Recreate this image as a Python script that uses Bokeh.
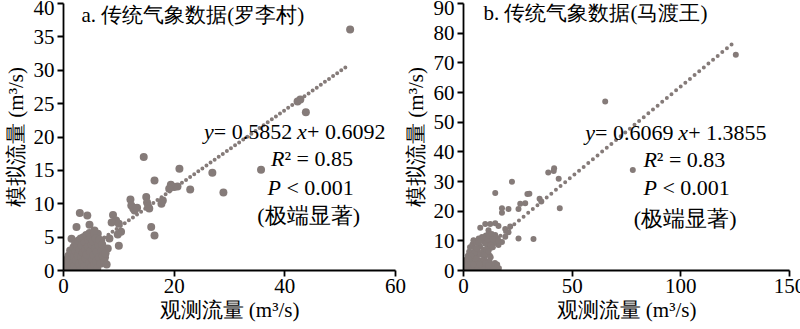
from bokeh.plotting import figure
from bokeh.models import Label, FixedTicker, Range1d
from bokeh.layouts import row
from bokeh.embed import file_html
from bokeh.resources import INLINE

# ---------------- data ----------------
# Panel a: 罗李村 (observed vs simulated flow, m3/s)
a_obs = [51.8, 43.8, 42.3, 42.8, 35.7, 28.9, 26.9, 22.9, 20.95, 20.6, 20.0, 19.4, 19.1,
         14.5, 16.45, 14.95, 15.1, 15.3, 15.5, 17.7, 17.95, 15.85, 16.45, 12.1, 12.25,
         12.6, 12.85, 13.3, 8.95, 9.5, 8.7, 10.0, 10.4, 9.8, 10.0, 8.3, 8.0, 7.5, 2.95,
         4.3, 2.35, 4.7, 1.45, 5.6, 6.2, 6.8,
         0.3, 0.5, 0.6, 0.8, 0.9, 1.0, 1.2, 1.2, 1.4, 1.5, 1.6, 1.7, 1.8, 1.9, 2.0, 2.1,
         2.2, 2.3, 2.4, 2.5, 2.6, 2.7, 2.8, 2.9, 3.0, 3.1, 3.2, 3.3, 3.4, 3.5, 3.6, 3.7,
         3.8, 3.9, 4.0, 4.1, 4.2, 4.3, 4.4, 4.5, 4.6, 4.7, 4.8, 4.9, 5.0, 5.1, 5.2, 5.3,
         5.4, 5.5, 5.6, 5.7, 5.8, 5.9, 6.0, 6.1, 6.3, 6.4, 6.5, 6.7, 6.9, 7.0, 7.1, 7.4,
         7.6, 7.8]
a_sim = [36.1, 23.7, 25.3, 25.6, 15.1, 11.7, 14.65, 12.15, 15.25, 12.6, 12.5, 12.85, 12.25,
         17.0, 13.5, 11.0, 10.2, 9.6, 9.3, 10.0, 10.5, 6.5, 5.25, 10.65, 9.75,
         9.3, 9.0, 9.4, 8.3, 7.5, 7.2, 7.0, 5.8, 5.4, 3.7, 4.8, 3.3, 2.0, 8.6,
         8.25, 6.5, 6.85, 4.75, 6.0, 5.5, 4.5,
         0.2, 0.9, 1.6, 0.3, 2.2, 1.1, 3.0, 0.4, 1.8, 2.6, 0.1, 1.2, 3.5, 2.1, 0.7, 4.0,
         2.9, 1.5, 0.3, 3.6, 2.2, 4.5, 1.0, 3.1, 0.1, 4.8, 2.0, 3.8, 1.3, 2.7, 5.0, 0.6,
         4.2, 3.2, 1.8, 5.3, 2.4, 0.2, 3.6, 4.6, 1.1, 5.6, 2.9, 5.0, 0.5, 3.9, 1.7, 4.4,
         2.3, 5.6, 0.9, 3.3, 4.8, 1.4, 2.8, 0.3, 3.8, 2.0, 4.6, 1.0, 3.0, 3.9, 2.2, 1.3,
         2.6, 0.9]
a_trend_x = [0.0, 51.5]
a_trend_y = [0.61, 30.75]

# Panel b: 马渡王
b_obs = [125.3, 65.2, 77.9, 41.5, 39.0, 41.7, 43.8, 44.3, 22.3, 14.6, 29.4, 30.3, 35.0,
         35.8, 26.1, 28.4, 25.3, 20.7, 17.7, 17.7, 25.3, 32.2, 7.7, 10.0, 12.3, 14.6,
         16.1, 11.5, 19.2, 20.7, 21.5, 19.2, 17.7, 4.6,
         0.5, 0.8, 1.0, 1.3, 1.5, 1.8, 2.0, 2.2, 2.4, 2.6, 2.8, 3.0, 3.2, 3.5, 3.7, 3.9,
         4.1, 4.3, 4.5, 4.7, 5.0, 5.2, 5.5, 5.8, 6.0, 6.2, 6.5, 6.8, 7.0, 7.3, 7.6, 7.9,
         8.2, 8.5, 8.8, 9.1, 9.4, 9.7, 10.0, 10.3, 10.6, 10.9, 11.2, 11.5, 11.8, 12.1,
         12.4, 12.7, 13.0, 13.3, 13.6, 13.9, 14.6, 15.0, 15.4, 15.8, 16.1, 16.3, 14.0,
         11.0, 9.0, 6.0, 4.0, 12.5, 12.0,
         2.0, 3.0, 4.0, 5.0, 6.0, 7.0, 8.0, 9.0, 10.0, 11.0, 12.0, 13.0, 14.0, 15.0,
         8.5, 9.5, 10.5, 11.5, 12.5, 13.5, 6.5, 7.5, 5.5, 4.5, 3.5, 2.5, 10.0, 11.5,
         14.5, 15.5, 16.0, 13.5]
b_sim = [72.7, 57.0, 33.9, 33.5, 33.0, 34.5, 30.9, 21.0, 29.9, 26.1, 25.8, 25.9, 24.2,
         23.3, 22.5, 22.7, 20.7, 20.7, 21.0, 19.5, 10.8, 10.6, 14.4, 15.7, 15.7, 15.9,
         15.0, 13.6, 14.0, 12.9, 14.8, 11.4, 9.6, 10.2,
         0.2, 1.2, 2.5, 0.5, 3.8, 1.8, 5.0, 0.3, 3.0, 6.3, 1.2, 7.8, 4.2, 2.2, 0.4, 6.0,
         8.8, 3.5, 1.0, 10.0, 5.2, 7.5, 2.5, 0.3, 9.3, 4.2, 6.6, 1.5, 10.8, 3.2, 8.2, 5.5,
         0.6, 11.3, 2.3, 7.0, 9.8, 4.3, 1.2, 11.8, 6.0, 8.8, 3.0, 12.3, 10.2, 5.0,
         7.6, 1.0, 11.6, 9.0, 2.0, 10.7, 12.0, 9.3, 1.3, 10.6, 8.6, 0.8, 0.5,
         0.4, 0.3, 0.2, 0.1, 4.5, 3.0,
         2.0, 3.0, 4.5, 6.0, 7.5, 9.5, 10.0, 11.0, 9.0, 10.5, 11.8, 12.3, 9.5, 11.2,
         3.5, 5.5, 7.0, 6.5, 8.5, 7.8, 3.0, 2.0, 4.0, 2.0, 5.0, 4.0, 2.5, 1.8,
         2.5, 2.0, 10.0, 10.5]
b_trend_x = [0.0, 124.0]
b_trend_y = [1.39, 76.6]

a_xticks = [0, 20, 40, 60]
a_yticks = [0, 5, 10, 15, 20, 25, 30, 35, 40]
b_xticks = [0, 50, 100, 150]
b_yticks = [0, 10, 20, 30, 40, 50, 60, 70, 80, 90]

a_title = "a. 传统气象数据(罗李村)"
b_title = "b. 传统气象数据(马渡王)"
a_eq = ("0.5852", "0.6092", "0.85")
b_eq = ("0.6069", "1.3855", "0.83")
sig_text = "(极端显著)"
x_label = "观测流量 (m³/s)"
y_label = "模拟流量 (m³/s)"

# ---------------- style ----------------
FONT = "'Liberation Serif', serif"
PT_COLOR = "#857b79"
FS = "21px"
AFS = "22px"


def make_panel(obs, sim, tx, ty, xmax, ymax, xticks, yticks, w, bl, br,
               dot_size, dash, title, tpos, eq, epos, border_fill):
    p = figure(width=w, height=329, x_range=Range1d(0, xmax), y_range=Range1d(0, ymax),
               output_backend="svg", toolbar_location=None,
               min_border_left=bl, min_border_right=br, min_border_top=3,
               min_border_bottom=59)
    p.grid.visible = False
    p.outline_line_color = None
    p.background_fill_color = "white"
    p.border_fill_color = border_fill

    for ax, ticks, lab in ((p.xaxis[0], xticks, x_label), (p.yaxis[0], yticks, y_label)):
        ax.ticker = FixedTicker(ticks=ticks)
        ax.axis_line_color = "black"
        ax.axis_line_width = 1.8
        ax.major_tick_line_color = "black"
        ax.major_tick_line_width = 1.8
        ax.major_tick_out = 6
        ax.major_tick_in = 0
        ax.minor_tick_line_color = None
        ax.major_label_text_font = FONT
        ax.major_label_text_font_size = FS
        ax.major_label_text_color = "black"
        ax.axis_label = lab
        ax.axis_label_text_font = FONT
        ax.axis_label_text_font_size = FS
        ax.axis_label_text_font_style = "normal"
        ax.axis_label_text_color = "black"
    p.xaxis.major_label_standoff = 2
    p.xaxis.axis_label_standoff = 2
    p.yaxis.major_label_standoff = 3
    p.yaxis.axis_label_standoff = 3

    p.line(tx, ty, line_color=PT_COLOR, line_width=4, line_dash=dash, line_cap="round")
    p.scatter(obs, sim, size=dot_size, marker="circle", fill_color=PT_COLOR,
              line_color=None)

    p.add_layout(Label(x=tpos[0], y=tpos[1], text=title, text_font=FONT,
                       text_font_size=FS, text_baseline="middle", text_color="black"))

    slope, icpt, r2 = eq
    (x1, y1), (x2, y2), (x3, y3), (x4, y4) = epos

    def lab(x, y, text, off=0, italic=False, align="left"):
        p.add_layout(Label(x=x, y=y, x_offset=off, text=text, text_font=FONT,
                           text_font_size=AFS, text_baseline="middle",
                           text_align=align, text_color="black",
                           text_font_style="italic" if italic else "normal"))

    lab(x1, y1, "y", 0, True)
    lab(x1, y1, "= " + slope, 9.8)
    lab(x1, y1, "x", 93, True)
    lab(x1, y1, "+ " + icpt, 103)
    lab(x2, y2, "R", 0, True)
    lab(x2, y2, "² = " + r2, 13.4)
    lab(x3, y3, "P", 0, True)
    lab(x3, y3, "< 0.001", 19)
    lab(x4, y4, sig_text, 0, False, "center")
    return p


pa = make_panel(a_obs, a_sim, a_trend_x, a_trend_y, 60, 40, a_xticks, a_yticks, 412, 62, 17,
                8, "0 5", a_title, (3.25, 38.25), a_eq,
                ((25.4, 20.85), (37.5, 16.75), (36.85, 12.5), (44.3, 8.25)), "white")
pa.margin = (0, -12, 0, 0)
pb = make_panel(b_obs, b_sim, b_trend_x, b_trend_y, 150, 90, b_xticks, b_yticks, 406, 63, 17,
                6, "0 6", b_title, (9.2, 86.9), b_eq,
                ((56.0, 46.6), (82.8, 37.5), (82.8, 27.85), (102.0, 17.6)), None)
pb.margin = (0, -6, 0, 0)

layout = row(pa, pb)
open("out.html", "w").write(file_html(layout, INLINE))
